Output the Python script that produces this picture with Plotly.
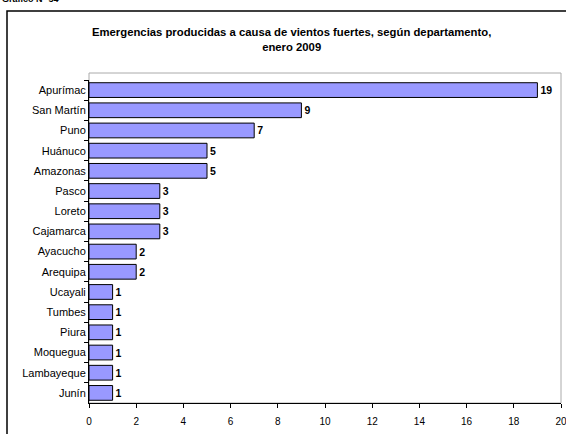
import plotly.graph_objects as go

departamentos = ["Apurímac", "San Martín", "Puno", "Huánuco", "Amazonas", "Pasco",
                 "Loreto", "Cajamarca", "Ayacucho", "Arequipa", "Ucayali", "Tumbes",
                 "Piura", "Moquegua", "Lambayeque", "Junín"]
emergencias = [19, 9, 7, 5, 5, 3, 3, 3, 2, 2, 1, 1, 1, 1, 1, 1]
x_ticks = [0, 2, 4, 6, 8, 10, 12, 14, 16, 18, 20]

SANS = "Liberation Sans, Arial, sans-serif"

W, H = 566, 434
L, R, T, B = 89, 5, 80, 31
pw, ph = W - L - R, H - T - B


def px(x):
    return (x - L) / pw


def py(y):
    return (H - B - y) / ph


fig = go.Figure(go.Bar(
    x=emergencias,
    y=departamentos,
    orientation="h",
    marker=dict(color="#9999FF", line=dict(color="#000000", width=1)),
    texttemplate="<b>%{x}</b>",
    textposition="outside",
    textfont=dict(family=SANS, size=10.5, color="#000000"),
    cliponaxis=False,
))

fig.update_layout(
    width=W, height=H,
    margin=dict(l=L, r=R, t=T, b=B, autoexpand=False),
    paper_bgcolor="white", plot_bgcolor="white",
    showlegend=False,
    bargap=0.27,
    xaxis=dict(
        range=[0, 20], tickvals=x_ticks, showgrid=False, zeroline=False,
        showline=True, linecolor="#000000", linewidth=1,
        ticks="outside", ticklen=4, tickcolor="#000000",
        ticklabelstandoff=5, ticklabeloverflow="allow", automargin=False,
        tickfont=dict(family=SANS, size=10, color="#000000"),
    ),
    yaxis=dict(
        categoryorder="array", categoryarray=departamentos, autorange="reversed",
        showgrid=False, zeroline=False, automargin=False,
        showline=True, linecolor="#000000", linewidth=1,
        ticks="outside", ticklen=4, tickcolor="#000000", tickson="boundaries",
        tickfont=dict(family=SANS, size=11, color="#000000"),
    ),
    shapes=[
        # outer frame of the figure
        dict(type="rect", xref="paper", yref="paper",
             x0=px(7), x1=px(580), y0=py(445), y1=py(11),
             line=dict(color="#000000", width=1.5), layer="below"),
        # plot area frame
        dict(type="rect", xref="paper", yref="paper",
             x0=0, x1=1, y0=0, y1=py(73),
             line=dict(color="#AAAAAA", width=1), layer="below"),
    ],
    annotations=[
        dict(text="<b>Emergencias producidas a causa de vientos fuertes, según departamento,<br>enero 2009</b>",
             xref="paper", yref="paper", x=px(291), y=py(39),
             xanchor="center", yanchor="middle", showarrow=False,
             font=dict(family=SANS, size=11.3, color="#000000")),
        dict(text="<b>Gráfico N° 54</b>",
             xref="paper", yref="paper", x=px(0), y=py(6),
             xanchor="left", yanchor="bottom", showarrow=False,
             font=dict(family=SANS, size=9, color="#000000")),
    ],
)

fig.write_html("out.html")
